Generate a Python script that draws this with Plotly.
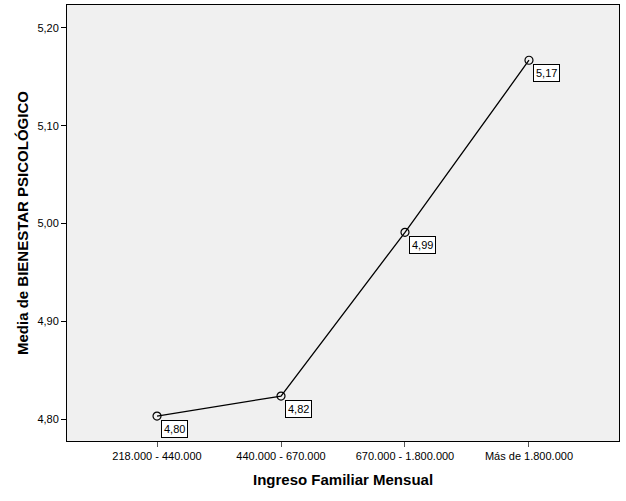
import plotly.graph_objects as go

categorias = ["218.000 - 440.000", "440.000 - 670.000", "670.000 - 1.800.000", "Más de 1.800.000"]
medias = [4.803, 4.8235, 4.991, 5.167]
etiquetas = ["4,80", "4,82", "4,99", "5,17"]
y_ticks = [4.80, 4.90, 5.00, 5.10, 5.20]

font = "Liberation Sans, Arial, sans-serif"

fig = go.Figure()
fig.add_trace(go.Scatter(
    x=list(range(len(categorias))), y=medias, mode="lines+markers",
    line=dict(color="black", width=1.3),
    marker=dict(symbol="circle-open", size=8, color="black", line=dict(width=1.2)),
    hoverinfo="skip", showlegend=False))

for i, (v, t) in enumerate(zip(medias, etiquetas)):
    fig.add_annotation(x=i, y=v, text=t, showarrow=False,
                       xanchor="left", yanchor="top", xshift=4, yshift=-4,
                       font=dict(family=font, size=11, color="black"),
                       bgcolor="white", bordercolor="black", borderwidth=1, borderpad=2)

# titulos de ejes como anotaciones para fijar su posicion
fig.add_annotation(xref="paper", yref="paper", x=0, y=0.5, xshift=-45,
                   text="<b>Media de BIENESTAR PSICOLÓGICO</b>", textangle=-90,
                   showarrow=False, xanchor="center", yanchor="middle",
                   font=dict(family=font, size=15, color="black"))
fig.add_annotation(xref="paper", yref="paper", x=0.5, y=0, yshift=-38,
                   text="<b>Ingreso Familiar Mensual</b>",
                   showarrow=False, xanchor="center", yanchor="middle",
                   font=dict(family=font, size=15, color="black"))

fig.update_xaxes(range=[-0.726, 3.726], tickvals=list(range(len(categorias))),
                 ticktext=categorias, ticks="outside", ticklen=5, tickcolor="#555",
                 showgrid=False, zeroline=False, showline=True, linecolor="black",
                 mirror=True, automargin=False,
                 tickfont=dict(family=font, size=11, color="black"))
fig.update_yaxes(range=[4.7775, 5.2235], tickvals=y_ticks, tickformat=".2f",
                 ticks="outside", ticklen=5, tickcolor="black",
                 showgrid=False, zeroline=False, showline=True, linecolor="black",
                 mirror=True, automargin=False,
                 tickfont=dict(family=font, size=11, color="black"))

fig.update_layout(width=626, height=501, separators=",.",
                  margin=dict(l=67, r=7, t=5, b=60),
                  plot_bgcolor="#F0F0F0", paper_bgcolor="white")

# quitar el margen por defecto del body para que el grafico empiece en 0,0
fig.write_html("out.html", config={"displayModeBar": False},
               post_script="document.body.style.margin='0';")
